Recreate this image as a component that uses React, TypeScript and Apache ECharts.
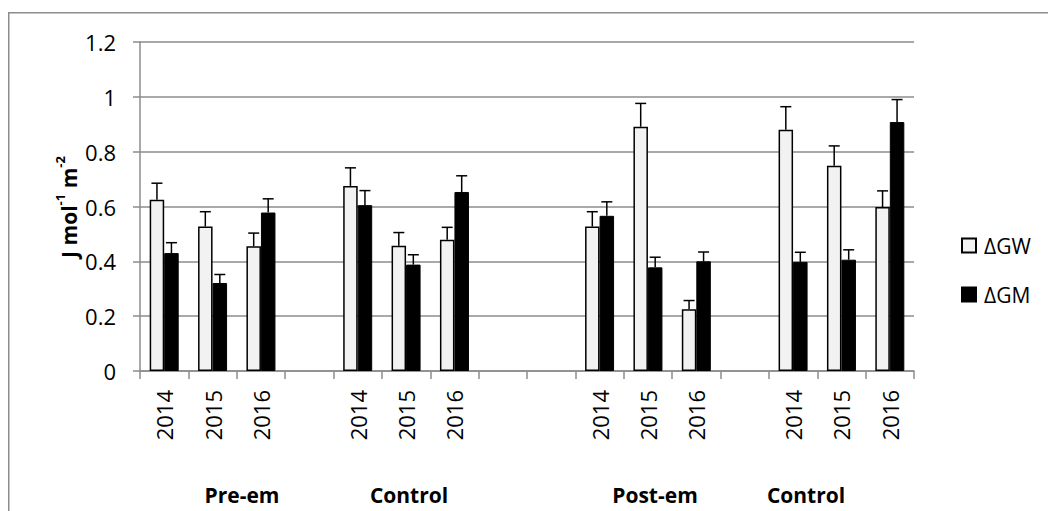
import React, { useEffect, useRef } from "react";
import * as echarts from "echarts";

const categories = ["2014", "2015", "2016", "", "2014", "2015", "2016", "", "", "2014", "2015", "2016", "", "2014", "2015", "2016"];
const gwValues = [0.625, 0.527, 0.455, null, 0.675, 0.457, 0.479, null, null, 0.527, 0.891, 0.225, null, 0.88, 0.749, 0.598];
const gwErrors = [0.06, 0.054, 0.048, null, 0.066, 0.048, 0.045, null, null, 0.054, 0.085, 0.032, null, 0.084, 0.072, 0.059];
const gmValues = [0.43, 0.321, 0.578, null, 0.605, 0.388, 0.653, null, null, 0.566, 0.378, 0.4, null, 0.398, 0.406, 0.908];
const gmErrors = [0.038, 0.031, 0.05, null, 0.053, 0.036, 0.059, null, null, 0.051, 0.037, 0.034, null, 0.035, 0.036, 0.082];
const groupLabels = ["Pre-em", "Control", "Post-em", "Control"];
const groupLabelX = [234, 401, 647, 798];

const FONT = "'Open Sans', sans-serif";
const GRAY = "#8c8c8c";
const BAR_W = 14.5;

function errData(vals: (number | null)[], errs: (number | null)[]) {
  const out: number[][] = [];
  vals.forEach((v, i) => {
    if (v !== null && errs[i] !== null) out.push([i, v, errs[i] as number]);
  });
  return out;
}

function errSeries(name: string, vals: (number | null)[], errs: (number | null)[], offset: number) {
  return {
    type: "custom",
    name: name + "-err",
    data: errData(vals, errs),
    encode: { x: 0, y: 1 },
    z: 5,
    renderItem: (params: any, api: any) => {
      const i = api.value(0);
      const v = api.value(1);
      const e = api.value(2);
      const p0 = api.coord([i, v]);
      const p1 = api.coord([i, v + e]);
      const x = p0[0] + offset;
      const st = { stroke: "#000", lineWidth: 1.5 };
      return {
        type: "group",
        children: [
          { type: "line", shape: { x1: x, y1: p0[1], x2: x, y2: p1[1] }, style: st },
          { type: "line", shape: { x1: x - 5.5, y1: p1[1], x2: x + 5.5, y2: p1[1] }, style: st },
        ],
      };
    },
  };
}

export default function App() {
  const ref = useRef<HTMLDivElement>(null);
  useEffect(() => {
    if (!ref.current) return;
    const chart = echarts.init(ref.current, undefined, { renderer: "svg" });
    chart.setOption({
      animation: false,
      grid: { left: 132, top: 34, width: 774, height: 329 },
      legend: {
        data: ["ΔGW", "ΔGM"],
        orient: "vertical",
        left: 948,
        top: 222,
        icon: "rect",
        itemWidth: 14,
        itemHeight: 14,
        itemGap: 28,
        textStyle: { fontFamily: FONT, fontSize: 21, color: "#000", lineHeight: 20, padding: [0, 0, 0, 3] },
      },
      xAxis: {
        type: "category",
        data: categories,
        axisLine: { lineStyle: { color: GRAY, width: 1.5 } },
        axisTick: { show: true, length: 8, lineStyle: { color: GRAY, width: 1.5 } },
        axisLabel: { interval: 0, rotate: 90, margin: 19, fontFamily: FONT, fontSize: 22, color: "#000" },
      },
      yAxis: {
        type: "value",
        min: 0,
        max: 1.2,
        interval: 0.2,
        axisLine: { show: true, lineStyle: { color: GRAY, width: 1.5 } },
        axisTick: { show: true, length: 7, lineStyle: { color: GRAY, width: 1.5 } },
        splitLine: { lineStyle: { color: GRAY, width: 1.5 } },
        axisLabel: { margin: 24, fontFamily: FONT, fontSize: 22, color: "#000" },
      },
      graphic: [
        {
          type: "rect",
          shape: { x: 0.75, y: 4.75, width: 1200, height: 700 },
          style: { fill: "none", stroke: GRAY, lineWidth: 1.5 },
          silent: true,
        },
        {
          type: "text",
          x: 58,
          y: 199,
          rotation: Math.PI / 2,
          style: {
            text: "{b|J mol}{s|-1}{b| m}{s|-2}",
            align: "center",
            verticalAlign: "middle",
            fill: "#000",
            rich: {
              b: { fontFamily: FONT, fontSize: 21, fontWeight: "bold", lineHeight: 26, verticalAlign: "bottom" },
              s: { fontFamily: FONT, fontSize: 13, fontWeight: "bold", lineHeight: 14, verticalAlign: "top" },
            },
          },
        },
        ...groupLabels.map((t, k) => ({
          type: "text",
          x: groupLabelX[k],
          y: 487,
          style: {
            text: t,
            align: "center",
            verticalAlign: "middle",
            fontFamily: FONT,
            fontSize: 21,
            fontWeight: "bold",
            fill: "#000",
          },
        })),
      ],
      series: [
        {
          type: "bar",
          name: "ΔGW",
          data: gwValues,
          barWidth: BAR_W,
          barGap: "0%",
          itemStyle: { color: "#f2f2f2", borderColor: "#000", borderWidth: 1.5 },
        },
        {
          type: "bar",
          name: "ΔGM",
          data: gmValues,
          barWidth: BAR_W,
          barGap: "0%",
          itemStyle: { color: "#000", borderColor: "#000", borderWidth: 1 },
        },
        errSeries("ΔGW", gwValues, gwErrors, -BAR_W / 2),
        errSeries("ΔGM", gmValues, gmErrors, BAR_W / 2),
      ],
    });
    return () => chart.dispose();
  }, []);
  return (
    <div
      ref={ref}
      style={{ position: "absolute", left: 8, top: 8, width: 1040, height: 503 }}
    />
  );
}
